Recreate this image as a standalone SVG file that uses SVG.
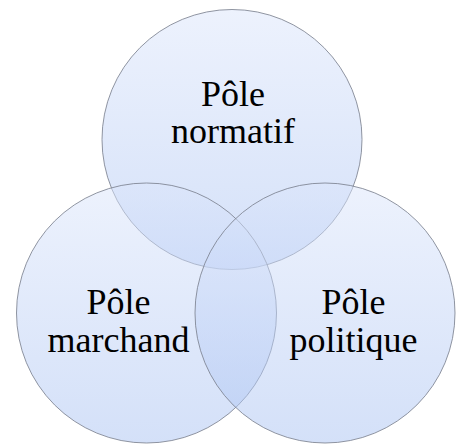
<svg xmlns="http://www.w3.org/2000/svg" width="456" height="444" viewBox="0 0 456 444">
  <defs>
    <linearGradient id="g" x1="0" y1="0" x2="0" y2="1">
      <stop offset="0" stop-color="#dbe5fb"/>
      <stop offset="1" stop-color="#a9c2f2"/>
    </linearGradient>
    <style>
      .c { fill: url(#g); fill-opacity: 0.5; stroke: #7d8390; stroke-opacity: 0.85; stroke-width: 1; }
      .t { font-size: 36px; fill: #000; text-anchor: middle; }
    </style>
  </defs>
  <rect width="456" height="444" fill="#ffffff"/>
  <g id="pole-normatif">
    <circle class="c" cx="232" cy="139.5" r="130"/>
    <text class="t" font-family="'Liberation Serif', 'Times New Roman', Tinos, 'DejaVu Serif', serif" x="233" y="106">Pôle</text>
    <text class="t" font-family="'Liberation Serif', 'Times New Roman', Tinos, 'DejaVu Serif', serif" x="233" y="142.5">normatif</text>
  </g>
  <g id="pole-marchand">
    <circle class="c" cx="146.5" cy="313" r="130"/>
    <text class="t" font-family="'Liberation Serif', 'Times New Roman', Tinos, 'DejaVu Serif', serif" x="118.5" y="313.5">Pôle</text>
    <text class="t" font-family="'Liberation Serif', 'Times New Roman', Tinos, 'DejaVu Serif', serif" x="118.5" y="351.5">marchand</text>
  </g>
  <g id="pole-politique">
    <circle class="c" cx="325" cy="313" r="130"/>
    <text class="t" font-family="'Liberation Serif', 'Times New Roman', Tinos, 'DejaVu Serif', serif" x="353.5" y="313.5">Pôle</text>
    <text class="t" font-family="'Liberation Serif', 'Times New Roman', Tinos, 'DejaVu Serif', serif" x="353.5" y="351.5">politique</text>
  </g>
  <g id="connectors"/>
</svg>
